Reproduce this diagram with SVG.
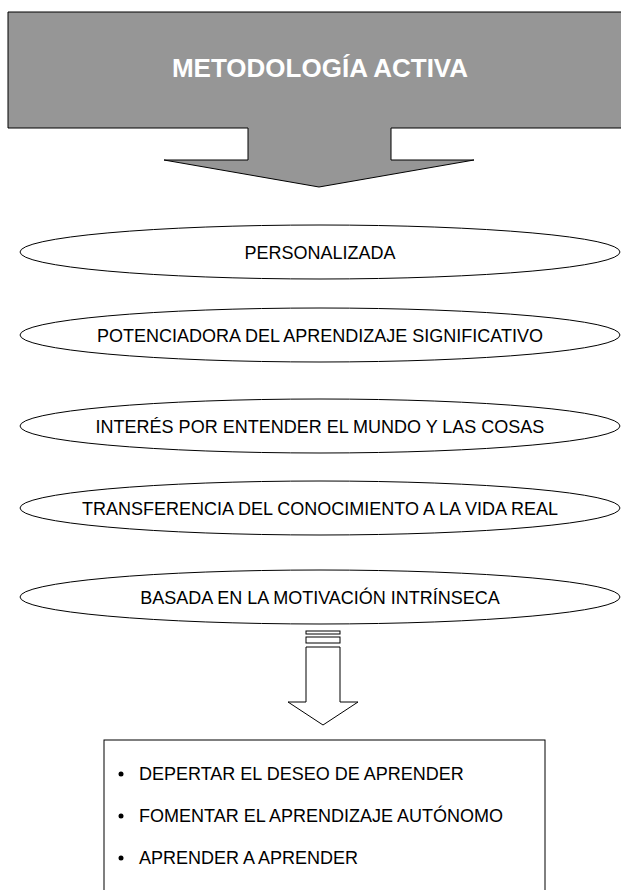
<svg xmlns="http://www.w3.org/2000/svg" width="621" height="890" viewBox="0 0 621 890">
<style>
.lbl{font-family:"Liberation Sans",Arial,sans-serif;font-size:18px;fill:#000;text-anchor:middle}
.ell{fill:#fff;stroke:#000;stroke-width:1}
.li{font-family:"Liberation Sans",Arial,sans-serif;font-size:18px;fill:#000}
</style>
<rect width="621" height="890" fill="#fff"/>
<g id="head">
<polygon points="8,12 640,12 640,128 391,128 391,160 474,160 319,187 164,160 248,160 248,128 8,128" fill="#969696" stroke="#000" stroke-width="1"/>
<text x="320" y="77" font-family="Liberation Sans,Arial,sans-serif" font-size="26" font-weight="bold" fill="#fff" text-anchor="middle">METODOLOGÍA ACTIVA</text>
</g>
<g id="n1"><ellipse class="ell" cx="320" cy="252" rx="300" ry="27"/><text class="lbl" x="320" y="258.5">PERSONALIZADA</text></g>
<g id="n2"><ellipse class="ell" cx="320" cy="335" rx="300" ry="27"/><text class="lbl" x="320" y="341.5">POTENCIADORA DEL APRENDIZAJE SIGNIFICATIVO</text></g>
<g id="n3"><ellipse class="ell" cx="320" cy="426" rx="300" ry="27"/><text class="lbl" x="320" y="432.5">INTERÉS POR ENTENDER EL MUNDO Y LAS COSAS</text></g>
<g id="n4"><ellipse class="ell" cx="320" cy="508" rx="300" ry="27"/><text class="lbl" x="320" y="514.5">TRANSFERENCIA DEL CONOCIMIENTO A LA VIDA REAL</text></g>
<g id="n5"><ellipse class="ell" cx="320" cy="597" rx="300" ry="27"/><text class="lbl" x="320" y="603.5">BASADA EN LA MOTIVACIÓN INTRÍNSECA</text></g>
<g id="connectors" fill="#fff" stroke="#000" stroke-width="1">
<rect x="306" y="631" width="34" height="3"/>
<rect x="306" y="637" width="34" height="6"/>
<polygon points="306,647 340,647 340,702 358,702 323,725 288,702 306,702"/>
</g>
<g id="list">
<rect x="104" y="740" width="441" height="160" fill="#fff" stroke="#000" stroke-width="1"/>
<circle cx="121" cy="774" r="2.5" fill="#000"/>
<circle cx="121" cy="816" r="2.5" fill="#000"/>
<circle cx="121" cy="858" r="2.5" fill="#000"/>
<text class="li" x="139" y="780">DEPERTAR EL DESEO DE APRENDER</text>
<text class="li" x="139" y="822">FOMENTAR EL APRENDIZAJE AUTÓNOMO</text>
<text class="li" x="139" y="864">APRENDER A APRENDER</text>
</g>
</svg>
